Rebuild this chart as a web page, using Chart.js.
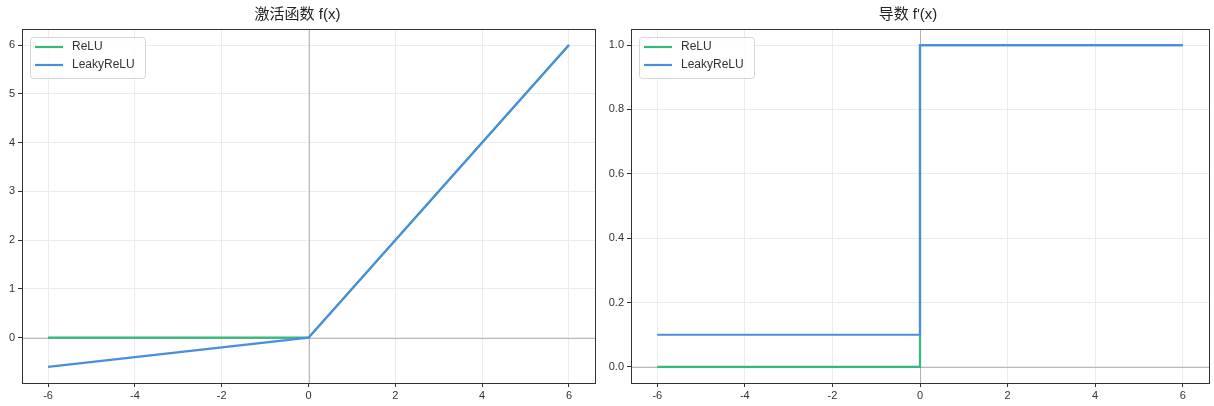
<!DOCTYPE html>
<html>
<head>
<meta charset="utf-8">
<script src="https://cdn.jsdelivr.net/npm/chart.js@4"></script>
<style>
  body { margin: 0; background: #fff; }
  #wrap { position: relative; width: 1214px; height: 406px; }
  #actChart { position: absolute; left: 0; top: 0; }
  #gradChart { position: absolute; left: 607px; top: 0; }
</style>
</head>
<body>
<div id="wrap">
  <canvas id="actChart" width="600" height="406"></canvas>
  <canvas id="gradChart" width="607" height="406"></canvas>
</div>
<script>
// data
const xs = [-6, 0, 6];
const reluVals = [0, 0, 6];
const leakyVals = [-0.6, 0, 6];
const reluGrad = [0, 1, 1];
const leakyGrad = [0.1, 1, 1];
const seriesNames = ["ReLU", "LeakyReLU"];
const xTicks = [-6, -4, -2, 0, 2, 4, 6];

const green = "#35b87c";
const blue = "#4a8ee0";
const fontFamily = "'Liberation Sans', 'Noto Sans CJK SC', sans-serif";

function pts(values) {
  return xs.map((x, i) => ({ x: x, y: values[i] }));
}

// frame, zero lines and the boxed legend
const framePlugin = {
  id: "frame",
  beforeDatasetsDraw(chart) {
    const ctx = chart.ctx;
    const a = chart.chartArea;
    const sx = chart.scales.x, sy = chart.scales.y;
    ctx.save();
    ctx.strokeStyle = "rgba(128,128,128,0.55)";
    ctx.lineWidth = 1;
    const x0 = Math.round(sx.getPixelForValue(0)) + 0.5;
    const y0 = Math.round(sy.getPixelForValue(0)) + 0.5;
    ctx.beginPath();
    ctx.moveTo(a.left, y0); ctx.lineTo(a.right, y0);
    ctx.moveTo(x0, a.top); ctx.lineTo(x0, a.bottom);
    ctx.stroke();
    ctx.restore();
  },
  afterDraw(chart) {
    const ctx = chart.ctx;
    const a = chart.chartArea;
    ctx.save();
    ctx.strokeStyle = "#333";
    ctx.lineWidth = 1;
    ctx.strokeRect(Math.round(a.left) + 0.5, Math.round(a.top) + 0.5,
      Math.round(a.right - a.left), Math.round(a.bottom - a.top));

    // legend
    const bx = a.left + 8, by = a.top + 8, bw = 115, bh = 41;
    ctx.fillStyle = "rgba(255,255,255,0.85)";
    ctx.strokeStyle = "#d6d6d6";
    ctx.beginPath();
    ctx.roundRect(bx + 0.5, by + 0.5, bw, bh, 3);
    ctx.fill();
    ctx.stroke();
    ctx.font = "12px " + fontFamily;
    ctx.textBaseline = "middle";
    chart.data.datasets.forEach((ds, i) => {
      const ly = by + 10 + i * 18;
      ctx.strokeStyle = ds.borderColor;
      ctx.lineWidth = 2.2;
      ctx.beginPath();
      ctx.moveTo(bx + 5, ly); ctx.lineTo(bx + 33, ly);
      ctx.stroke();
      ctx.fillStyle = "#333";
      ctx.fillText(ds.label, bx + 42, ly);
    });
    ctx.restore();
  }
};

function makeChart(el, title, reluData, leakyData, stepped, yOpts, yWidth) {
  return new Chart(el, {
    type: "line",
    data: {
      datasets: [
        { label: seriesNames[0], data: pts(reluData), borderColor: green, backgroundColor: green,
          borderWidth: 2.2, pointRadius: 0, stepped: stepped, order: 2 },
        { label: seriesNames[1], data: pts(leakyData), borderColor: blue, backgroundColor: blue,
          borderWidth: 2.2, pointRadius: 0, stepped: stepped, order: 1 }
      ]
    },
    plugins: [framePlugin],
    options: {
      responsive: false,
      animation: false,
      layout: { padding: { left: 0, right: 5, top: 0, bottom: 0 } },
      plugins: {
        legend: { display: false },
        tooltip: { enabled: false },
        title: {
          display: true, text: title, color: "#222",
          font: { size: 15, family: fontFamily, weight: "normal" },
          padding: { top: 6, bottom: 5 }
        }
      },
      scales: {
        x: {
          type: "linear", min: -6.6, max: 6.6,
          afterBuildTicks: (s) => { s.ticks = xTicks.map(v => ({ value: v })); },
          afterFit: (s) => { s.height = 23; },
          grid: { color: "#ebebeb", tickColor: "#333", tickLength: 4 },
          border: { display: false },
          ticks: { color: "#333", padding: 2, font: { size: 11, family: fontFamily }, maxRotation: 0 }
        },
        y: Object.assign({
          type: "linear",
          afterFit: (s) => { s.width = yWidth; },
          grid: { color: "#ebebeb", tickColor: "#333", tickLength: 4 },
          border: { display: false }
        }, yOpts)
      }
    }
  });
}

makeChart(document.getElementById("actChart"), "激活函数 f(x)", reluVals, leakyVals, false, {
  min: -0.93, max: 6.33,
  ticks: { stepSize: 1, includeBounds: false, color: "#333", padding: 3, font: { size: 11, family: fontFamily } }
}, 22);

makeChart(document.getElementById("gradChart"), "导数 f'(x)", reluGrad, leakyGrad, "before", {
  min: -0.05, max: 1.05,
  ticks: { stepSize: 0.2, includeBounds: false, color: "#333", padding: 3,
    font: { size: 11, family: fontFamily }, callback: (v) => v.toFixed(1) }
}, 24);
</script>
</body>
</html>
